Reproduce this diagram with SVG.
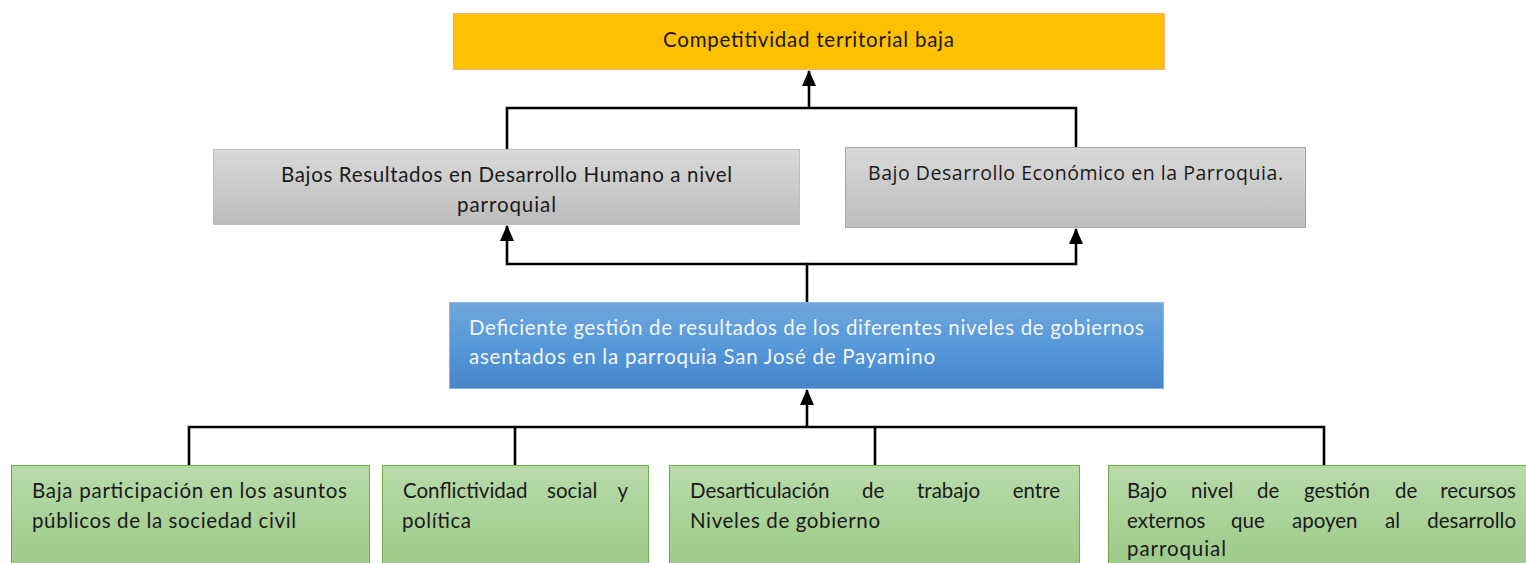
<svg xmlns="http://www.w3.org/2000/svg" width="1526" height="563" viewBox="0 0 1526 563">
<defs>
<linearGradient id="gGray" x1="0" y1="0" x2="0" y2="1"><stop offset="0" stop-color="#D9D9D9"/><stop offset="1" stop-color="#BDBDBD"/></linearGradient>
<linearGradient id="gBlue" x1="0" y1="0" x2="0" y2="1"><stop offset="0" stop-color="#70A7DC"/><stop offset="0.5" stop-color="#5698DA"/><stop offset="1" stop-color="#4686C8"/></linearGradient>
<linearGradient id="gGreen" x1="0" y1="0" x2="0" y2="1"><stop offset="0" stop-color="#B9DBAA"/><stop offset="1" stop-color="#9DCA89"/></linearGradient>
<marker id="arr" markerUnits="userSpaceOnUse" markerWidth="16" markerHeight="16" refX="15" refY="7" orient="auto"><path d="M0,0 L16,7 L0,14 Z" fill="#000"/></marker>
</defs>
<style>
.t{font-family:Lato,"Liberation Sans",sans-serif;font-size:20.5px;fill:#1a1a1a}
.o{font-family:"Open Sans","Liberation Sans",sans-serif;font-size:19.5px;fill:#1a1a1a}
.w{fill:#F2F6FB}
.e{text-anchor:end}
.c{stroke:#000;stroke-width:2.6;fill:none}
</style>
<g id="connectors">
<path class="c" d="M507,149 V108 H1076 V147"/>
<path class="c" d="M809,108 V71" marker-end="url(#arr)"/>
<path class="c" d="M807,302 V264 H507 V226" marker-end="url(#arr)"/>
<path class="c" d="M807,264 H1076 V229" marker-end="url(#arr)"/>
<path class="c" d="M189,465 V427 H1324 V465 M515,427 V465 M875,427 V465"/>
<path class="c" d="M807,427 V390" marker-end="url(#arr)"/>
</g>
<g id="n-top">
<rect x="453.5" y="13.5" width="711" height="56" fill="#FFC000" stroke="#F4B183"/>
<text class="t" x="808.5" y="47" text-anchor="middle" textLength="291">Competitividad territorial baja</text>
</g>
<g id="n-humano">
<rect x="213.5" y="149.5" width="586" height="75" fill="url(#gGray)" stroke="#BFBFBF"/>
<text class="t" x="281" y="182" textLength="451">Bajos Resultados en Desarrollo Humano a nivel</text>
<text class="t" x="457" y="212" textLength="99">parroquial</text>
</g>
<g id="n-economico">
<rect x="845.5" y="147.5" width="460" height="80" fill="url(#gGray)" stroke="#A6A6A6"/>
<text class="o" x="868" y="180" textLength="415">Bajo Desarrollo Económico en la Parroquia.</text>
</g>
<g id="n-gestion">
<rect x="449.5" y="302.5" width="714" height="86" fill="url(#gBlue)" stroke="#8DB4E2"/>
<text class="t w" x="469" y="335" textLength="675">Deficiente gestión de resultados de los diferentes niveles de gobiernos</text>
<text class="t w" x="469" y="364" textLength="466">asentados en la parroquia San José de Payamino</text>
</g>
<g id="n-participacion">
<rect x="11.5" y="465.5" width="358" height="100" fill="url(#gGreen)" stroke="#70AD47"/>
<text class="t" x="32" y="498" textLength="315">Baja participación en los asuntos</text>
<text class="t" x="32" y="528" textLength="264">públicos de la sociedad civil</text>
</g>
<g id="n-conflictividad">
<rect x="382.5" y="465.5" width="266" height="100" fill="url(#gGreen)" stroke="#70AD47"/>
<text class="t" y="498"><tspan x="403">Conflictividad</tspan><tspan x="547">social</tspan></text>
<text class="t e" x="628" y="498">y</text>
<text class="t" x="402" y="528" textLength="69">política</text>
</g>
<g id="n-desarticulacion">
<rect x="669.5" y="465.5" width="410" height="100" fill="url(#gGreen)" stroke="#70AD47"/>
<text class="t" y="498"><tspan x="690">Desarticulación</tspan><tspan x="862">de</tspan><tspan x="917">trabajo</tspan></text>
<text class="t e" x="1060" y="498">entre</text>
<text class="t" x="690" y="528" textLength="190">Niveles de gobierno</text>
</g>
<g id="n-recursos">
<rect x="1108.5" y="465.5" width="430" height="100" fill="url(#gGreen)" stroke="#70AD47"/>
<text class="t" y="498"><tspan x="1127">Bajo</tspan><tspan x="1191">nivel</tspan><tspan x="1257">de</tspan><tspan x="1304">gestión</tspan><tspan x="1395">de</tspan></text>
<text class="t e" x="1516" y="498">recursos</text>
<text class="t" y="528"><tspan x="1127">externos</tspan><tspan x="1231">que</tspan><tspan x="1292">apoyen</tspan><tspan x="1385">al</tspan></text>
<text class="t e" x="1516" y="528">desarrollo</text>
<text class="t" x="1127" y="556" textLength="99">parroquial</text>
</g>
</svg>
